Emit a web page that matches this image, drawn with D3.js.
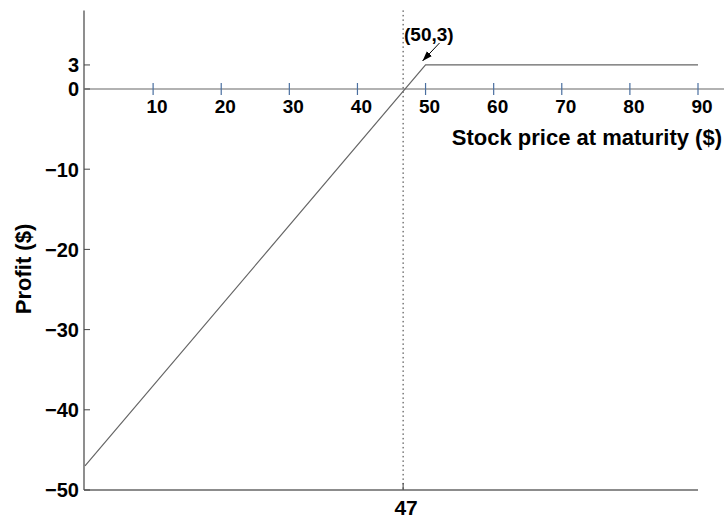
<!DOCTYPE html>
<html><head><meta charset="utf-8">
<script src="https://cdn.jsdelivr.net/npm/d3@7"></script>
<style>body{margin:0;background:#fff}svg{display:block}text{font-family:"Liberation Sans",Arial,sans-serif;font-weight:bold;fill:#000}</style>
</head><body>
<svg id="c" width="724" height="519"></svg>
<script>
const xTicks = [10,20,30,40,50,60,70,80,90];
const yTicks = [3,0,-10,-20,-30,-40,-50];
const profitX = [0,50,90];
const profitY = [-47,3,3];
const breakEven = 47;
const annotation = {x:50, y:3, label:"(50,3)"};

const svg = d3.select("#c");
const x = d3.scaleLinear().domain([0,90]).range([85,698]);
const y = d3.scaleLinear().domain([-50,0]).range([490,89]);
const fmt = v => v < 0 ? "\u2212" + Math.abs(v) : String(v);

// y axis
svg.append("line").attr("x1",84).attr("x2",84).attr("y1",y(9.8)).attr("y2",y(-50)).attr("stroke","#444").attr("stroke-width",1.2);
// bottom axis
svg.append("line").attr("x1",84).attr("x2",x(90)).attr("y1",y(-50)).attr("y2",y(-50)).attr("stroke","#666").attr("stroke-width",1.5);
// zero line
svg.append("line").attr("x1",84).attr("x2",724).attr("y1",y(0)).attr("y2",y(0)).attr("stroke","#999").attr("stroke-width",1.5);

// y ticks
const yg = svg.append("g");
yg.selectAll("line").data(yTicks).join("line")
  .attr("x1",84).attr("x2",90).attr("y1",d=>y(d)).attr("y2",d=>y(d)).attr("stroke","#444");
yg.selectAll("text").data(yTicks).join("text")
  .attr("x",79).attr("y",d=>y(d)).attr("dy","0.37em").attr("text-anchor","end")
  .attr("font-size",20).text(fmt);

// x ticks on zero line
const xg = svg.append("g");
xg.selectAll("line").data(xTicks).join("line")
  .attr("x1",d=>x(d)).attr("x2",d=>x(d)).attr("y1",y(0)-6).attr("y2",y(0)+6).attr("stroke","#4a6fa0").attr("stroke-width",1.2);
xg.selectAll("text").data(xTicks).join("text")
  .attr("x",d=>x(d)+4).attr("y",y(0)+24).attr("text-anchor","middle")
  .attr("font-size",19).text(fmt);

svg.append("text").attr("x",722).attr("y",145).attr("text-anchor","end").attr("font-size",22).text("Stock price at maturity ($)");
svg.append("text").attr("transform","translate(31,269) rotate(-90)").attr("text-anchor","middle").attr("font-size",22).text("Profit ($)");

// break-even dotted line
svg.append("line").attr("x1",x(breakEven)-2).attr("x2",x(breakEven)-2).attr("y1",y(9.8)).attr("y2",y(-50))
  .attr("stroke","#333").attr("stroke-width",1).attr("stroke-dasharray","1.5,3");
svg.append("line").attr("x1",x(breakEven)-2).attr("x2",x(breakEven)-2).attr("y1",y(-50)-7).attr("y2",y(-50)).attr("stroke","#444");
svg.append("text").attr("x",x(breakEven)+1).attr("y",y(-50)+25).attr("text-anchor","middle").attr("font-size",21).text(String(breakEven));

// profit line
const line = d3.line().x((d,i)=>x(profitX[i])).y(d=>y(d));
svg.append("path").attr("d",line(profitY)).attr("fill","none").attr("stroke","#666").attr("stroke-width",1.2);

// annotation
const defs = svg.append("defs");
defs.append("marker").attr("id","ah").attr("viewBox","0 0 10 10").attr("refX",10).attr("refY",5)
  .attr("markerWidth",10).attr("markerHeight",10).attr("orient","auto-start-reverse").attr("markerUnits","userSpaceOnUse")
  .append("path").attr("d","M0,1.5 L10,5 L0,8.5 Z").attr("fill","#000");
const ax = x(annotation.x), ay = y(annotation.y);
svg.append("line").attr("x1",ax+14).attr("y1",ay-22).attr("x2",ax-3).attr("y2",ay-4)
  .attr("stroke","#000").attr("stroke-width",1).attr("marker-end","url(#ah)");
svg.append("text").attr("x",404).attr("y",41).attr("font-size",19).text(annotation.label);
</script>
</body></html>
